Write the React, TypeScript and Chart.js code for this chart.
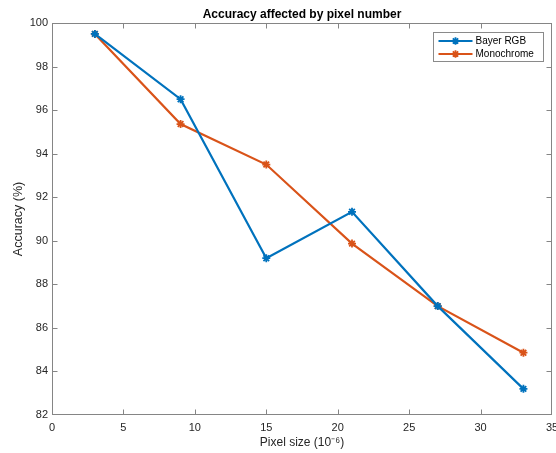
import React, { useEffect, useRef } from 'react';
import { Chart, registerables } from 'chart.js';

Chart.register(...registerables);

const pixelSizes = [3, 9, 15, 21, 27, 33];
const bayerRGB = [99.5, 96.5, 89.2, 91.33, 87.0, 83.2];
const monochrome = [99.5, 95.36, 93.5, 89.87, 87.0, 84.86];
const seriesNames = ['Bayer RGB', 'Monochrome'];
const seriesColors = ['#0072BD', '#D95319'];
const chartTitle = 'Accuracy affected by pixel number';
const xTitle = 'Pixel size (10\u207B\u2076)';
const yTitle = 'Accuracy (%)';
const xMin = 0, xMax = 35, xStep = 5;
const yMin = 82, yMax = 100, yStep = 2;

const FONT = "'Liberation Sans', Arial, Helvetica, sans-serif";
const AXIS_COLOR = '#858585';
const TEXT_COLOR = '#262626';

function drawStar(ctx: CanvasRenderingContext2D, x: number, y: number, r: number) {
  ctx.beginPath();
  ctx.moveTo(x - r, y); ctx.lineTo(x + r, y);
  ctx.moveTo(x, y - r); ctx.lineTo(x, y + r);
  const d = r * Math.SQRT1_2;
  ctx.moveTo(x - d, y - d); ctx.lineTo(x + d, y + d);
  ctx.moveTo(x - d, y + d); ctx.lineTo(x + d, y - d);
  ctx.stroke();
}

const noPadding = () => ({ left: 0, top: 0, right: 0, bottom: 0 });

const matlabPlugin = {
  id: 'matlabDecor',
  beforeDatasetsDraw(chart: any) {
    const { ctx, chartArea: a, scales } = chart;
    ctx.save();
    ctx.strokeStyle = AXIS_COLOR;
    ctx.lineWidth = 1;
    const L = Math.round(a.left) + 0.5, R = Math.round(a.right) - 0.5;
    const T = Math.round(a.top) + 0.5, B = Math.round(a.bottom) - 0.5;
    ctx.strokeRect(L, T, R - L, B - T);
    const tl = 5;
    ctx.beginPath();
    scales.x.ticks.forEach((t: any) => {
      const px = Math.round(scales.x.getPixelForValue(t.value)) + 0.5;
      if (px <= L + 1 || px >= R - 1) return;
      ctx.moveTo(px, B); ctx.lineTo(px, B - tl);
      ctx.moveTo(px, T); ctx.lineTo(px, T + tl);
    });
    scales.y.ticks.forEach((t: any) => {
      const py = Math.round(scales.y.getPixelForValue(t.value)) + 0.5;
      if (py <= T + 1 || py >= B - 1) return;
      ctx.moveTo(L, py); ctx.lineTo(L + tl, py);
      ctx.moveTo(R, py); ctx.lineTo(R - tl, py);
    });
    ctx.stroke();
    ctx.restore();
  },
  afterDraw(chart: any) {
    const { ctx, chartArea: a } = chart;
    ctx.save();
    // title
    ctx.fillStyle = '#000000';
    ctx.font = `bold 12px ${FONT}`;
    ctx.textAlign = 'center';
    ctx.textBaseline = 'alphabetic';
    ctx.fillText(chartTitle, (a.left + a.right) / 2, 17.5);
    // legend
    const bw = 110, bh = 29;
    const bx = Math.round(a.right - 9 - bw) + 0.5;
    const by = Math.round(a.top + 9) + 0.5;
    ctx.fillStyle = '#ffffff';
    ctx.fillRect(bx, by, bw, bh);
    ctx.strokeStyle = '#8a8a8a';
    ctx.lineWidth = 1;
    ctx.strokeRect(bx, by, bw, bh);
    chart.data.datasets.forEach((ds: any, i: number) => {
      const ry = by + 8.5 + i * 13;
      ctx.strokeStyle = ds.borderColor;
      ctx.lineWidth = 2;
      ctx.beginPath();
      ctx.moveTo(bx + 5, ry); ctx.lineTo(bx + 39, ry);
      ctx.stroke();
      ctx.lineWidth = 1.8;
      drawStar(ctx, bx + 22, ry, 3.8);
      ctx.fillStyle = '#000000';
      ctx.font = `10px ${FONT}`;
      ctx.textAlign = 'left';
      ctx.textBaseline = 'middle';
      ctx.fillText(ds.label, bx + 42, ry + 0.5);
    });
    ctx.restore();
  },
};

export default function App() {
  const ref = useRef<HTMLCanvasElement | null>(null);
  useEffect(() => {
    document.body.style.margin = '0';
    const canvas = ref.current!;
    const chart = new Chart(canvas, {
      type: 'line',
      data: {
        datasets: [bayerRGB, monochrome].map((vals, i) => ({
          label: seriesNames[i],
          data: pixelSizes.map((x, j) => ({ x, y: vals[j] })),
          borderColor: seriesColors[i],
          backgroundColor: seriesColors[i],
          borderWidth: 2.2,
          pointStyle: 'star',
          pointRadius: 4,
          pointBorderWidth: 1.8,
          tension: 0,
          fill: false,
        })),
      },
      options: {
        animation: false,
        responsive: false,
        devicePixelRatio: 1,
        layout: { autoPadding: false, padding: { top: 23, right: 4, bottom: 0, left: 0 } },
        plugins: {
          legend: { display: false },
          title: { display: false },
          tooltip: { enabled: false },
        },
        scales: {
          x: {
            type: 'linear',
            min: xMin,
            max: xMax,
            afterFit: (s: any) => { s.height = 38; s.paddingLeft = 0; s.paddingRight = 0; s.getPadding = noPadding; },
            grid: { display: false, drawTicks: false },
            border: { display: false },
            ticks: { stepSize: xStep, padding: 6, color: TEXT_COLOR, font: { family: FONT, size: 11 } },
            title: { display: true, text: xTitle, color: TEXT_COLOR, font: { family: FONT, size: 12 }, padding: { top: 0, bottom: 3 } },
          },
          y: {
            type: 'linear',
            min: yMin,
            max: yMax,
            afterFit: (s: any) => { s.width = 52; s.paddingTop = 0; s.paddingBottom = 0; s.getPadding = noPadding; },
            grid: { display: false, drawTicks: false },
            border: { display: false },
            ticks: { stepSize: yStep, padding: 4, color: TEXT_COLOR, font: { family: FONT, size: 11 } },
            title: { display: true, text: yTitle, color: TEXT_COLOR, font: { family: FONT, size: 12.5 }, padding: { top: 11, bottom: 0 } },
          },
        },
      },
      plugins: [matlabPlugin],
    } as any);
    return () => chart.destroy();
  }, []);
  return (
    <div style={{ position: 'absolute', left: 0, top: 0, width: 556, height: 453, background: '#ffffff' }}>
      <canvas ref={ref} width={556} height={453} />
    </div>
  );
}
